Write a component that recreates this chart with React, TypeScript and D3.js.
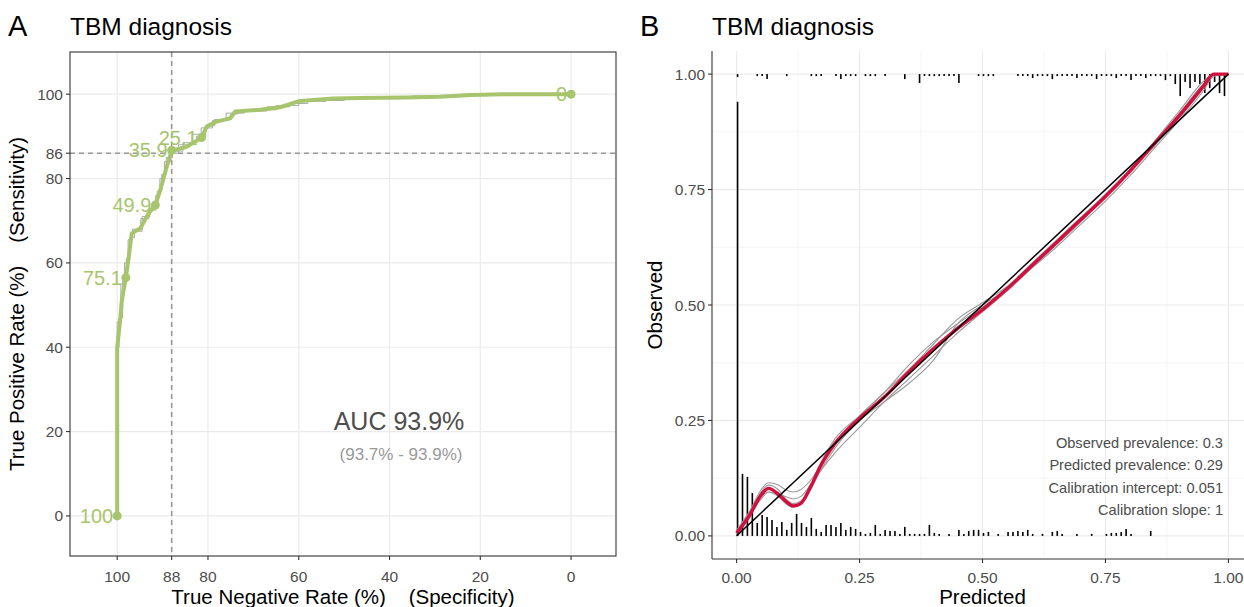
import React from "react";
import * as d3 from "d3";

// ROC curve (panel A): specificity / sensitivity in %
const rocSpec = [100, 100, 99.3, 99, 98.1, 97.5, 96.8, 94.9, 93.1, 91.6, 90.5, 89.4, 88, 86.5, 84.7, 81.4, 80.3, 78.1, 75.1, 74, 68.5, 64.1, 59.7, 52.4, 46.5, 36, 29, 22, 15, 0];
const rocSens = [0, 40, 47, 51, 56.5, 61, 67, 68.2, 71.7, 73.7, 77.3, 81.6, 86.7, 87, 87.5, 89.7, 92.3, 93.5, 94.3, 95.9, 96.3, 96.9, 98.4, 99, 99.1, 99.2, 99.4, 99.8, 100, 100];

// bootstrap step curves behind the main one
const bootA: [number, number][] = [[100, 0], [99.6, 40], [98.8, 47], [98, 56], [97.2, 61], [96.2, 66], [94.5, 67.5], [92.8, 71], [91.2, 73], [90.2, 77], [89.2, 81], [87.8, 85], [85.5, 86.5], [82.5, 88.5], [80.5, 90], [78.5, 92.5], [75, 94], [73.5, 95.3], [67, 96], [62, 97], [58, 97.8], [50, 98.5], [42, 99], [28, 99.4], [20, 99.7], [0, 100]];
const bootB: [number, number][] = [[100, 0], [100, 40], [99.2, 46], [98.4, 55], [97.6, 60], [96.6, 65.5], [94.8, 68], [93, 70.5], [91.5, 72.5], [90.6, 76], [89.6, 80], [88.2, 84], [86.5, 86], [83.5, 88], [81.5, 90.5], [79, 92], [76, 93.8], [72, 95.5], [65, 96.3], [60, 97.3], [54, 98.3], [46, 98.8], [35, 99.2], [24, 99.6], [0, 100]];

// labelled thresholds
const thrLabels = ["100", "75.1", "49.9", "35.9", "25.1", "0"];
const thrSpec = [100, 98.1, 91.6, 88, 81.4, 0];
const thrSens = [0, 56.5, 73.7, 86.7, 89.7, 100];

const xTicksA = [100, 88, 80, 60, 40, 20, 0];
const yTicksA = [0, 20, 40, 60, 80, 86, 100];
const cutSpec = 88;
const cutSens = 86;

// calibration (panel B)
const calX = [0, 0.025, 0.05, 0.065, 0.085, 0.1, 0.115, 0.13, 0.15, 0.17, 0.2, 0.25, 0.3, 0.35, 0.4, 0.45, 0.5, 0.55, 0.6, 0.65, 0.7, 0.75, 0.8, 0.85, 0.9, 0.95, 0.97, 1.0];
const calMain = [0.006, 0.042, 0.089, 0.103, 0.09, 0.075, 0.065, 0.07, 0.105, 0.15, 0.2, 0.255, 0.3, 0.355, 0.405, 0.45, 0.49, 0.535, 0.585, 0.635, 0.685, 0.735, 0.79, 0.85, 0.91, 0.975, 1.0, 1.0];
const calBoot1 = [0.01, 0.05, 0.1, 0.115, 0.11, 0.1, 0.095, 0.1, 0.12, 0.15, 0.2, 0.26, 0.31, 0.37, 0.42, 0.46, 0.495, 0.535, 0.585, 0.635, 0.685, 0.735, 0.79, 0.845, 0.905, 0.97, 1.0, 1.0];
const calBoot2 = [0.005, 0.04, 0.08, 0.095, 0.09, 0.085, 0.08, 0.085, 0.11, 0.14, 0.18, 0.235, 0.29, 0.34, 0.39, 0.44, 0.485, 0.53, 0.58, 0.63, 0.68, 0.735, 0.79, 0.85, 0.915, 0.98, 1.0, 1.0];
const calBoot3 = [0.008, 0.045, 0.095, 0.11, 0.1, 0.08, 0.07, 0.075, 0.1, 0.14, 0.19, 0.25, 0.29, 0.33, 0.38, 0.46, 0.5, 0.535, 0.58, 0.625, 0.675, 0.725, 0.78, 0.84, 0.9, 0.965, 0.995, 1.0];
const calBoot4 = [0.012, 0.05, 0.085, 0.095, 0.085, 0.07, 0.062, 0.068, 0.1, 0.155, 0.21, 0.26, 0.31, 0.36, 0.415, 0.47, 0.505, 0.54, 0.59, 0.64, 0.69, 0.74, 0.795, 0.855, 0.92, 0.985, 1.0, 1.0];

// histogram counts in 0.01 bins of predicted risk (non-events at 0, events at 1)
const histNeg = [434, 62, 59, 43, 13, 21, 19, 16, 9, 14, 6, 13, 22, 13, 9, 18, 7, 4, 11, 11, 9, 13, 6, 9, 7, 4, 2, 3, 11, 2, 6, 5, 5, 2, 9, 2, 2, 2, 2, 11, 3, 2, 0, 2, 0, 6, 2, 5, 6, 6, 3, 4, 0, 2, 0, 4, 4, 5, 4, 6, 2, 0, 2, 0, 4, 5, 2, 0, 0, 2, 0, 0, 2, 0, 0, 2, 3, 3, 4, 7, 2, 0, 0, 0, 5, 0, 0, 0, 0, 0, 0, 0, 0, 0, 0, 0, 0, 0, 0, 0];
const histPos = [3, 0, 0, 0, 2, 2, 5, 0, 0, 0, 2, 0, 0, 0, 0, 2, 2, 2, 0, 0, 2, 5, 2, 2, 2, 0, 2, 2, 2, 0, 2, 0, 0, 0, 5, 0, 0, 9, 2, 2, 2, 2, 2, 2, 2, 9, 0, 0, 0, 2, 2, 2, 2, 0, 0, 0, 0, 2, 2, 2, 4, 2, 2, 2, 5, 2, 2, 2, 2, 4, 2, 2, 2, 5, 2, 2, 2, 4, 2, 2, 6, 2, 2, 4, 2, 2, 2, 6, 2, 10, 22, 8, 14, 8, 10, 19, 14, 8, 19, 22];

const xTicksB = [0, 0.25, 0.5, 0.75, 1];
const yTicksB = [0, 0.25, 0.5, 0.75, 1];
const minorB = [0.125, 0.375, 0.625, 0.875];

const statLines = ["Observed prevalence: 0.3", "Predicted prevalence: 0.29", "Calibration intercept: 0.051", "Calibration slope: 1"];

const green = "#a7c56c";
const red = "#d0103f";
const txt = "#4d4d4d";
const grid = "#ebebeb";
const font = "'Liberation Sans', Arial, Helvetica, sans-serif";

export default function App() {
  // panel A scales
  const xA = d3.scaleLinear().domain([110.4, -9.9]).range([70, 616]);
  const yA = d3.scaleLinear().domain([-9.5, 110]).range([556, 52]);
  // panel B scales
  const xB = d3.scaleLinear().domain([-0.05, 1.05]).range([712, 1253]);
  const yB = d3.scaleLinear().domain([-0.05, 1.05]).range([559, 51]);
  const hB = d3.scaleLinear().domain([0, d3.max(histNeg) as number]).range([0, 0.94]);

  const rocLine = d3.line<number>().x((_, i) => xA(rocSpec[i])).y((_, i) => yA(rocSens[i]));
  const stepLine = d3.line<[number, number]>().x(d => xA(d[0])).y(d => yA(d[1])).curve(d3.curveStepBefore);
  const calLine = (ys: number[]) =>
    d3.line<number>().x((_, i) => xB(calX[i])).y(d => yB(d)).curve(d3.curveMonotoneX)(ys) as string;

  const [a0, a1] = [70, 616];
  const [b0, b1] = [52, 556];

  return (
    <svg width={1244} height={607} style={{ position: "absolute", left: 0, top: 0, background: "#fff" }} fontFamily={font}>
      <defs>
        <clipPath id="clipA"><rect x={a0} y={b0} width={a1 - a0} height={b1 - b0} /></clipPath>
        <clipPath id="clipB"><rect x={712} y={51} width={532} height={508} /></clipPath>
      </defs>

      {/* ---------------- Panel A ---------------- */}
      <text x={8} y={36} fontSize={29} fill="#000">A</text>
      <text x={70} y={35} fontSize={24.5} fill="#000">TBM diagnosis</text>

      {/* grid */}
      {xTicksA.map(t => (
        <line key={"gx" + t} x1={xA(t)} x2={xA(t)} y1={b0} y2={b1} stroke={grid} strokeWidth={1.2} />
      ))}
      {yTicksA.map(t => (
        <line key={"gy" + t} x1={a0} x2={a1} y1={yA(t)} y2={yA(t)} stroke={grid} strokeWidth={1.2} />
      ))}

      {/* cut-off reference lines */}
      <line x1={xA(cutSpec)} x2={xA(cutSpec)} y1={b0} y2={b1} stroke="#999" strokeWidth={1.6} strokeDasharray="5,4" />
      <line x1={a0} x2={a1} y1={yA(cutSens)} y2={yA(cutSens)} stroke="#999" strokeWidth={1.6} strokeDasharray="5,4" />

      <g clipPath="url(#clipA)">
        <path d={stepLine(bootA) as string} fill="none" stroke="#a0a0a0" strokeWidth={0.9} />
        <path d={stepLine(bootB) as string} fill="none" stroke="#a0a0a0" strokeWidth={0.9} />
        <path d={rocLine(rocSpec) as string} fill="none" stroke={green} strokeWidth={4} strokeLinejoin="round" strokeLinecap="round" />
        {thrLabels.map((l, i) => (
          <g key={"thr" + l}>
            <circle cx={xA(thrSpec[i])} cy={yA(thrSens[i])} r={4.5} fill={green} />
            <text x={xA(thrSpec[i]) - 4} y={yA(thrSens[i]) + 7} fontSize={20} fill={green} textAnchor="end">{l}</text>
          </g>
        ))}
      </g>

      <text x={399} y={430} fontSize={25} fill={txt} textAnchor="middle">AUC 93.9%</text>
      <text x={401} y={460} fontSize={17} fill="#999" textAnchor="middle">(93.7% - 93.9%)</text>

      <rect x={a0} y={b0} width={a1 - a0} height={b1 - b0} fill="none" stroke="#333" strokeWidth={1.1} />

      {/* axes A */}
      {xTicksA.map(t => (
        <g key={"tx" + t}>
          <line x1={xA(t)} x2={xA(t)} y1={b1} y2={b1 + 4} stroke="#333" strokeWidth={1.1} />
          <text x={xA(t)} y={b1 + 26} fontSize={15.5} fill={txt} textAnchor="middle">{t}</text>
        </g>
      ))}
      {yTicksA.map(t => (
        <g key={"ty" + t}>
          <line x1={a0 - 4} x2={a0} y1={yA(t)} y2={yA(t)} stroke="#333" strokeWidth={1.1} />
          <text x={a0 - 7} y={yA(t) + 5.5} fontSize={15.5} fill={txt} textAnchor="end">{t}</text>
        </g>
      ))}
      <text x={(a0 + a1) / 2} y={604} fontSize={20.5} fill="#000" textAnchor="middle" style={{ whiteSpace: "pre" }}>
        {"True Negative Rate (%)    (Specificity)"}
      </text>
      <text transform={`translate(24,${(b0 + b1) / 2}) rotate(-90)`} fontSize={20.5} fill="#000" textAnchor="middle" style={{ whiteSpace: "pre" }}>
        {"True Positive Rate (%)    (Sensitivity)"}
      </text>

      {/* ---------------- Panel B ---------------- */}
      <text x={640} y={36} fontSize={29} fill="#000">B</text>
      <text x={712} y={35} fontSize={24.5} fill="#000">TBM diagnosis</text>

      {minorB.map(t => (
        <g key={"mb" + t}>
          <line x1={xB(t)} x2={xB(t)} y1={51} y2={559} stroke="#f3f3f3" strokeWidth={0.8} />
          <line x1={712} x2={1244} y1={yB(t)} y2={yB(t)} stroke="#f3f3f3" strokeWidth={0.8} />
        </g>
      ))}
      {xTicksB.map(t => (
        <line key={"gbx" + t} x1={xB(t)} x2={xB(t)} y1={51} y2={559} stroke={grid} strokeWidth={1.2} />
      ))}
      {yTicksB.map(t => (
        <line key={"gby" + t} x1={712} x2={1244} y1={yB(t)} y2={yB(t)} stroke={grid} strokeWidth={1.2} />
      ))}

      <g clipPath="url(#clipB)">
        {/* histograms */}
        {histNeg.map((c, i) =>
          c > 0 ? (
            <line key={"hn" + i} x1={xB(i * 0.01 + 0.002)} x2={xB(i * 0.01 + 0.002)} y1={yB(0)} y2={yB(hB(c))} stroke="#000" strokeWidth={1.6} />
          ) : null
        )}
        {histPos.map((c, i) =>
          c > 0 ? (
            <line key={"hp" + i} x1={xB(i * 0.01 + 0.002)} x2={xB(i * 0.01 + 0.002)} y1={yB(1)} y2={yB(1 - hB(c))} stroke="#000" strokeWidth={1.6} />
          ) : null
        )}

        {[calBoot1, calBoot2, calBoot3, calBoot4].map((ys, k) => (
          <path key={"cb" + k} d={calLine(ys)} fill="none" stroke="#9a9a9a" strokeWidth={1.1} />
        ))}
        <path d={calLine(calMain)} fill="none" stroke={red} strokeWidth={3.4} strokeLinejoin="round" />
        <line x1={xB(0)} y1={yB(0)} x2={xB(1)} y2={yB(1)} stroke="#000" strokeWidth={1.5} />
      </g>

      {statLines.map((s, i) => (
        <text key={s} x={1223} y={448 + i * 22.3} fontSize={14.6} fill={txt} textAnchor="end">{s}</text>
      ))}

      {/* axes B */}
      <line x1={712} x2={712} y1={51} y2={559} stroke="#333" strokeWidth={1.1} />
      <line x1={712} x2={1244} y1={559} y2={559} stroke="#333" strokeWidth={1.1} />
      {xTicksB.map(t => (
        <g key={"tbx" + t}>
          <line x1={xB(t)} x2={xB(t)} y1={559} y2={563} stroke="#333" strokeWidth={1.1} />
          <text x={xB(t)} y={583} fontSize={15.5} fill={txt} textAnchor="middle">{t.toFixed(2)}</text>
        </g>
      ))}
      {yTicksB.map(t => (
        <g key={"tby" + t}>
          <line x1={708} x2={712} y1={yB(t)} y2={yB(t)} stroke="#333" strokeWidth={1.1} />
          <text x={705} y={yB(t) + 5.5} fontSize={15.5} fill={txt} textAnchor="end">{t.toFixed(2)}</text>
        </g>
      ))}
      <text x={xB(0.5)} y={604} fontSize={20.5} fill="#000" textAnchor="middle">Predicted</text>
      <text transform={`translate(662,${yB(0.5)}) rotate(-90)`} fontSize={20.5} fill="#000" textAnchor="middle">Observed</text>
    </svg>
  );
}
